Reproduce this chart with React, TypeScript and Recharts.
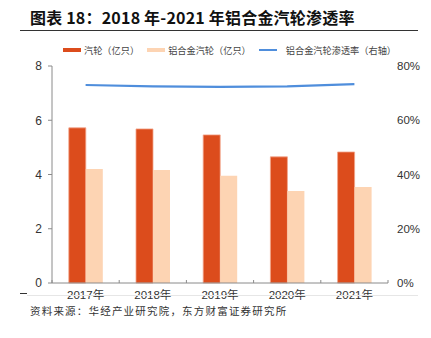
import { ComposedChart, Bar, Line, XAxis, YAxis } from "recharts";

const years = ["2017年", "2018年", "2019年", "2020年", "2021年"];
const wheelTotal = [5.72, 5.68, 5.46, 4.65, 4.83];
const alloyWheel = [4.2, 4.17, 3.95, 3.39, 3.54];
const penetration = [73.0, 72.5, 72.3, 72.5, 73.3];
const leftTicks = [0, 2, 4, 6, 8];
const rightTicks = [0, 20, 40, 60, 80];
const edgeTicks = [0, 1, 2, 3, 4, 5];

const seriesNames = ["汽轮（亿只）", "铝合金汽轮（亿只）", "铝合金汽轮渗透率（右轴）"];

const RED = "#DC4C1C";
const PEACH = "#FDD4B3";
const BLUE = "#4F8EDC";
const AXIS = "#8a8a8a";
const FONT = "'Liberation Sans', Arial, 'Noto Sans CJK SC', sans-serif";
const CJK = "'Noto Sans CJK SC', sans-serif";

const data = years.map((year, i) => ({
  year,
  idx: i + 0.5,
  total: wheelTotal[i],
  alloy: alloyWheel[i],
  rate: penetration[i],
}));

// empty tick: only the tick line is wanted on the boundary axis
const NoLabel = () => <g />;

function LegendRow() {
  const colors = [RED, PEACH, BLUE];
  return (
    <div
      style={{
        position: "absolute",
        top: 43,
        left: 63,
        display: "flex",
        alignItems: "center",
        fontFamily: CJK,
        fontSize: 9.2,
        color: "#444",
        whiteSpace: "nowrap",
      }}
    >
      {seriesNames.map((name, i) => (
        <div key={name} style={{ display: "flex", alignItems: "center", marginRight: 8 }}>
          <span
            style={{
              display: "inline-block",
              width: 18,
              height: i === 2 ? 2 : 4,
              background: colors[i],
              marginRight: i === 2 ? 9 : 3,
            }}
          />
          {name}
        </div>
      ))}
    </div>
  );
}

export default function App() {
  return (
    <div style={{ position: "absolute", left: 0, top: 0, width: 431, height: 338, background: "#fff" }}>
      <div
        style={{
          position: "absolute",
          left: 30,
          top: 5,
          fontFamily: CJK,
          fontWeight: 700,
          fontSize: 16,
          letterSpacing: 0.2,
          color: "#111",
          whiteSpace: "nowrap",
        }}
      >
        图表 18：2018 年-2021 年铝合金汽轮渗透率
      </div>
      <div style={{ position: "absolute", left: 20, top: 30, width: 398, height: 1, background: "#333" }} />
      <LegendRow />
      <div style={{ position: "absolute", left: 0, top: 0 }}>
        <ComposedChart
          width={431}
          height={338}
          data={data}
          margin={{ top: 66, right: 5, bottom: 35, left: 12 }}
          barCategoryGap="25%"
          barGap={0}
        >
          <XAxis
            dataKey="year"
            axisLine={{ stroke: AXIS }}
            tickLine={false}
            tickSize={0}
            tickMargin={8}
            height={20}
            tick={{ fill: "#333", fontSize: 11.5, fontFamily: FONT }}
          />
          <XAxis
            xAxisId="edges"
            type="number"
            dataKey="idx"
            domain={[0, 5]}
            ticks={edgeTicks}
            mirror
            tick={<NoLabel />}
            tickSize={3}
            tickLine={{ stroke: AXIS }}
            axisLine={false}
            allowDataOverflow
          />
          <YAxis
            yAxisId="left"
            domain={[0, 8]}
            ticks={leftTicks}
            width={40}
            axisLine={{ stroke: AXIS }}
            tickLine={{ stroke: AXIS }}
            tickSize={4}
            tickMargin={6}
            tick={{ fill: "#333", fontSize: 12, fontFamily: FONT }}
          />
          <YAxis
            yAxisId="right"
            orientation="right"
            domain={[0, 80]}
            ticks={rightTicks}
            width={38}
            axisLine={false}
            tickLine={false}
            tickSize={0}
            tickMargin={9}
            tickFormatter={(v: number) => `${v}%`}
            tick={{ fill: "#333", fontSize: 11.5, fontFamily: FONT, textAnchor: "start" }}
          />
          <Bar
            yAxisId="left"
            dataKey="total"
            name={seriesNames[0]}
            fill={RED}
            stroke="#F2A58A"
            strokeWidth={0.8}
            isAnimationActive={false}
          />
          <Bar
            yAxisId="left"
            dataKey="alloy"
            name={seriesNames[1]}
            fill={PEACH}
            isAnimationActive={false}
          />
          <Line
            yAxisId="right"
            dataKey="rate"
            name={seriesNames[2]}
            stroke={BLUE}
            strokeWidth={2.2}
            dot={false}
            activeDot={false}
            isAnimationActive={false}
          />
        </ComposedChart>
      </div>
      <div style={{ position: "absolute", left: 20, top: 293, width: 7, height: 1, background: "#333" }} />
      <div style={{ position: "absolute", left: 27, top: 295, width: 391, height: 1, background: "#e6e6e6" }} />
      <div
        style={{
          position: "absolute",
          left: 30,
          top: 303,
          fontFamily: CJK,
          fontSize: 10.5,
          letterSpacing: 1.2,
          color: "#333",
          whiteSpace: "nowrap",
        }}
      >
        资料来源：华经产业研究院，东方财富证券研究所
      </div>
    </div>
  );
}
